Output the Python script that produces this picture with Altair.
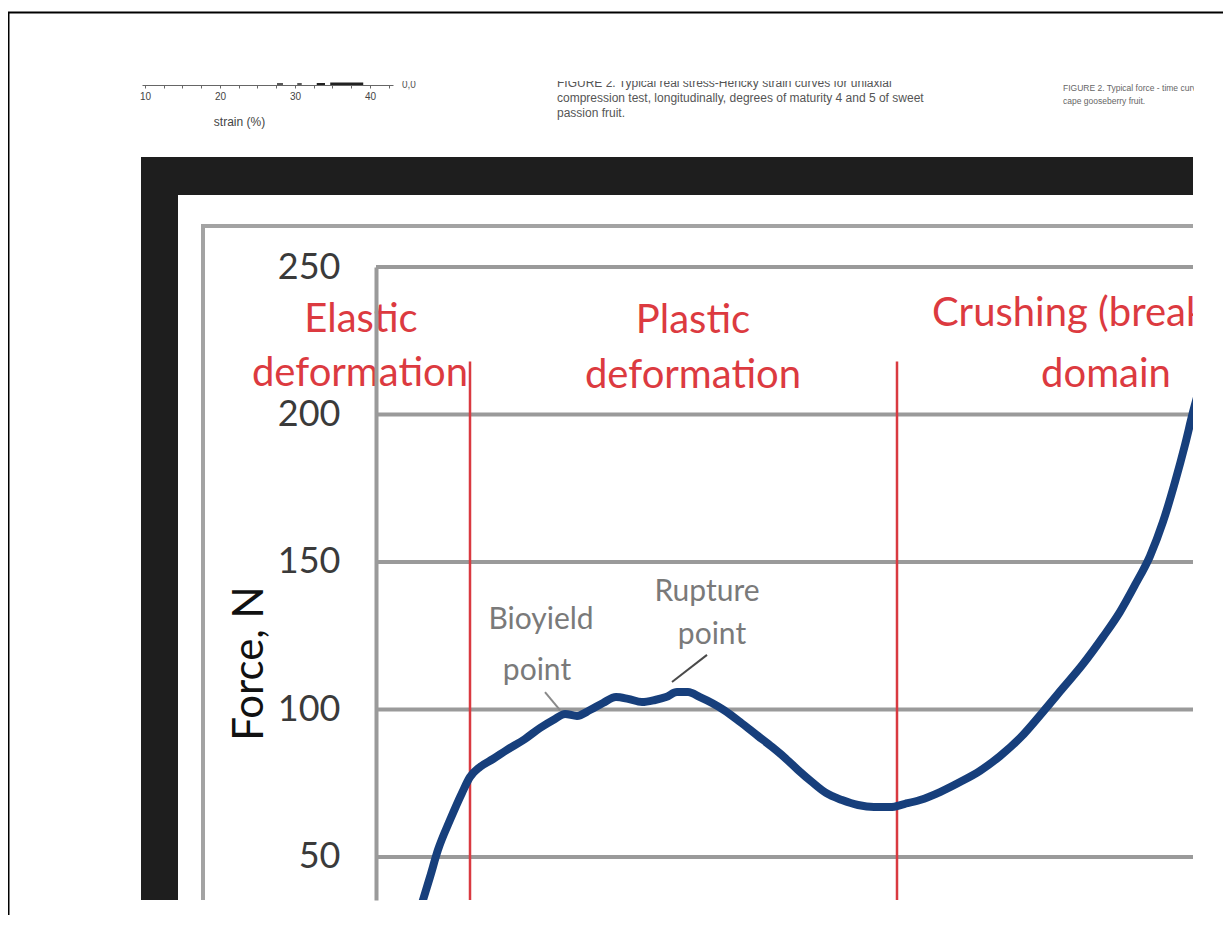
import altair as alt
import pandas as pd

# ---------------- data ----------------
# main force curve (deformation in arbitrary units, force in N)
deform = [0.40, 0.47, 0.54, 0.62, 0.74, 0.86, 0.94, 1.04, 1.17, 1.31,
          1.49, 1.64, 1.79, 1.89, 2.01, 2.14, 2.27, 2.40, 2.52, 2.66,
          2.79, 2.90, 3.01, 3.12, 3.24, 3.36, 3.48, 3.64, 3.82, 3.96,
          4.08, 4.22, 4.36, 4.50, 4.66, 4.82, 4.98, 5.14, 5.29, 5.44,
          5.64, 5.84, 6.04, 6.24, 6.44, 6.67, 6.87, 7.07, 7.27, 7.44,
          7.59, 7.74, 7.87, 7.99, 8.09, 8.17, 8.29]
force = [28.0, 35.4, 43.2, 52.4, 62.5, 71.7, 77.1, 80.5, 83.2, 86.3,
         90.0, 93.7, 96.8, 98.5, 97.8, 99.8, 102.2, 104.2, 103.6, 102.5,
         103.2, 104.2, 105.9, 105.9, 104.2, 102.2, 99.8, 95.8, 91.0, 87.3,
         83.9, 79.5, 75.4, 71.7, 69.3, 67.6, 66.9, 66.9, 68.0, 69.3,
         72.0, 75.4, 79.2, 84.2, 90.3, 99.2, 107.3, 115.4, 124.6, 133.1,
         142.2, 152.0, 163.6, 177.1, 189.7, 200.8, 215.1]

grid_force = [50, 100, 150, 200, 250]

# domain boundaries (red vertical lines)
boundary_x = [0.94, 5.21]
boundary_top = [218, 218]
boundary_bottom = [30, 30]

# region labels (red)
region_text = ["Elastic", "deformation", "Plastic", "deformation", "domain"]
region_x = [-0.15, -0.16, 3.17, 3.17, 7.30]
region_y = [228.0, 209.7, 227.6, 209.0, 209.3]
crush_text = ["Crushing (breakage)"]
crush_x = [5.56]
crush_y = [230.0]

# point annotations (grey)
note_text = ["Bioyield", "point", "Rupture", "point"]
note_x = [1.65, 1.61, 3.31, 3.36]
note_y = [130.3, 113.1, 139.8, 125.3]
leader_x = [1.69, 3.31]
leader_x2 = [1.84, 2.96]
leader_y = [105.9, 118.5]
leader_y2 = [99.8, 109.3]
leader_col = ["#8a8a8a", "#4a4a4a"]

# fragment of the neighbouring stress-strain figure (strain axis)
strain_ticks = [10, 20, 30, 40]
strain_minor = [10, 12.5, 15, 17.5, 20, 22.5, 25, 27.5, 30, 32.5, 35, 37.5, 40, 42.5]
speck_start = [27.6, 30.3, 32.9, 34.7]
speck_end = [28.4, 30.9, 34.0, 39.1]
speck_width = [1.5, 1.5, 2, 3]

caption_mid = ["FIGURE 2. Typical real stress-Hencky strain curves for uniaxial",
               "compression test, longitudinally, degrees of maturity 4 and 5 of sweet",
               "passion fruit."]
caption_right = ["FIGURE 2. Typical force - time curve for",
                 "cape gooseberry fruit."]

# ---------------- chart ----------------
W, H = 817, 633
XS = alt.Scale(domain=[0, 8.17], nice=False, zero=False)
YS = alt.Scale(domain=[35.4, 250], nice=False, zero=False)
FONT = "Lato"
blank = pd.DataFrame({"k": [0]})


def vrect(x, x2, y, y2, color):
    return alt.Chart(blank).mark_rect(color=color).encode(
        x=alt.value(x), x2=alt.value(x2), y=alt.value(y), y2=alt.value(y2))


def hline(x, x2, y, color, w):
    return alt.Chart(blank).mark_rule(color=color, strokeWidth=w).encode(
        x=alt.value(x), x2=alt.value(x2), y=alt.value(y))


def vline(x, y, y2, color, w):
    return alt.Chart(blank).mark_rule(color=color, strokeWidth=w).encode(
        x=alt.value(x), y=alt.value(y), y2=alt.value(y2))


layers = []
# page border
layers.append(hline(-368, 855, -254.5, "#000000", 2))
layers.append(vline(-367.5, -255, 700, "#000000", 2))
# dark frame and white chart area
layers.append(vrect(-235, W, -110, H, "#1e1e1e"))
layers.append(vrect(-198, W, -72, H, "#ffffff"))
# grey chart-area border
layers.append(vline(-173, -43, H, "#a3a3a3", 4))
layers.append(hline(-175, W, -41, "#a3a3a3", 4))

# gridlines + y axis
grid_df = pd.DataFrame({"force": grid_force})
layers.append(
    alt.Chart(grid_df).mark_rule(color="#9a9a9a", strokeWidth=4).encode(
        y=alt.Y("force:Q", scale=YS, axis=alt.Axis(
            orient="left", values=grid_force, title="Force, N", grid=False,
            ticks=False, domain=True, domainColor="#9a9a9a", domainWidth=4,
            labelFont=FONT, labelFontSize=36, labelColor="#3a3a3a",
            labelPadding=36, labelOverlap=False,
            titleFont=FONT, titleFontSize=42, titleFontWeight="normal",
            titleColor="#111111", titleAngle=270, titleX=-127, titleY=396,
            titleAlign="center", titleBaseline="middle", zindex=1)))
)

# red boundaries
bnd_df = pd.DataFrame({"bx": boundary_x, "top": boundary_top, "bottom": boundary_bottom})
layers.append(
    alt.Chart(bnd_df).mark_rule(color="#d93a40", strokeWidth=2.5, clip=True).encode(
        x=alt.X("bx:Q", scale=XS, axis=None),
        y=alt.Y("top:Q", scale=YS, axis=None),
        y2="bottom:Q")
)

# force curve
curve_df = pd.DataFrame({"deform": deform, "force": force})
layers.append(
    alt.Chart(curve_df).mark_line(color="#173f7c", strokeWidth=8, clip=True,
                                  interpolate="monotone", strokeCap="round",
                                  strokeJoin="round").encode(
        x=alt.X("deform:Q", scale=XS, axis=None),
        y=alt.Y("force:Q", scale=YS, axis=None))
)

# annotations
note_df = pd.DataFrame({"x": note_x, "y": note_y, "t": note_text})
layers.append(
    alt.Chart(note_df).mark_text(font=FONT, fontSize=30, color="#7a7a7a").encode(
        x=alt.X("x:Q", scale=XS, axis=None),
        y=alt.Y("y:Q", scale=YS, axis=None), text="t:N")
)
lead_df = pd.DataFrame({"x": leader_x, "x2": leader_x2, "y": leader_y,
                        "y2": leader_y2, "c": leader_col})
layers.append(
    alt.Chart(lead_df).mark_rule(strokeWidth=2).encode(
        x=alt.X("x:Q", scale=XS, axis=None), x2="x2:Q",
        y=alt.Y("y:Q", scale=YS, axis=None), y2="y2:Q",
        color=alt.Color("c:N", scale=None))
)

# region labels
reg_df = pd.DataFrame({"x": region_x, "y": region_y, "t": region_text})
layers.append(
    alt.Chart(reg_df).mark_text(font=FONT, fontSize=40, color="#dc3a40",
                                baseline="alphabetic", align="center").encode(
        x=alt.X("x:Q", scale=XS, axis=None),
        y=alt.Y("y:Q", scale=YS, axis=None), text="t:N")
)
cr_df = pd.DataFrame({"x": crush_x, "y": crush_y, "t": crush_text})
layers.append(
    alt.Chart(cr_df).mark_text(font=FONT, fontSize=40, color="#dc3a40",
                               baseline="alphabetic", align="left", clip=True).encode(
        x=alt.X("x:Q", scale=XS, axis=None),
        y=alt.Y("y:Q", scale=YS, axis=None), text="t:N")
)

# neighbouring figure fragment: strain axis with curve specks
speck_df = pd.DataFrame({"s0": speck_start, "s1": speck_end, "w": speck_width})
layers.append(
    alt.Chart(speck_df).mark_rule(color="#222222").encode(
        x=alt.X("s0:Q", scale=alt.Scale(domain=[9.6, 43.07], range=[-234, 17],
                                         nice=False, zero=False),
                axis=alt.Axis(orient="bottom", offset=-815, values=strain_minor,
                              labelExpr="datum.value % 10 === 0 ? datum.label : ''",
                              tickSize=3, tickColor="#666666", domainColor="#666666",
                              domainWidth=1, grid=False, labelFont="Liberation Sans",
                              labelFontSize=10, labelColor="#444444", labelPadding=3,
                              labelFlush=False, labelOverlap=False,
                              title="strain (%)", titleFont="Liberation Sans",
                              titleFontSize=12, titleFontWeight="normal",
                              titleColor="#444444", titleX=-137, titleY=36,
                              titleAlign="center", titleBaseline="middle", zindex=1)),
        x2="s1:Q",
        y=alt.value(-183),
        strokeWidth=alt.StrokeWidth("w:Q", scale=None))
)
layers.append(
    alt.Chart(blank).mark_text(align="left", baseline="middle", fontSize=10,
                               font="Liberation Sans", color="#555555").encode(
        x=alt.value(26), y=alt.value(-182), text=alt.value("0,0"))
)

# captions
layers.append(
    alt.Chart(blank).mark_text(align="left", baseline="alphabetic", fontSize=12,
                               lineBreak="\n", lineHeight=15,
                               font="Liberation Sans Narrow, Liberation Sans, sans-serif",
                               color="#555555").encode(
        x=alt.value(181), y=alt.value(-180), text=alt.value("\n".join(caption_mid)))
)
layers.append(
    alt.Chart(blank).mark_text(align="left", baseline="alphabetic", fontSize=8.5,
                               lineBreak="\n", lineHeight=13,
                               font="Liberation Sans Narrow, Liberation Sans, sans-serif",
                               color="#666666").encode(
        x=alt.value(687), y=alt.value(-176), text=alt.value("\n".join(caption_right)))
)

# crop covers (the reference is a cropped screenshot)
layers.append(vrect(-366, 855, -252, -186, "#ffffff"))
layers.append(vrect(818, 855, -252, 700, "#ffffff"))

chart = alt.layer(*layers).resolve_scale(
    x="independent", y="independent"
).properties(
    width=W, height=H,
    autosize=alt.AutoSizeParams(type="none"),
    padding={"left": 368, "top": 259, "right": 30, "bottom": 15},
    background="#ffffff",
).configure_view(strokeWidth=0)

chart.save("out.html", embed_options={"renderer": "svg", "actions": False})
